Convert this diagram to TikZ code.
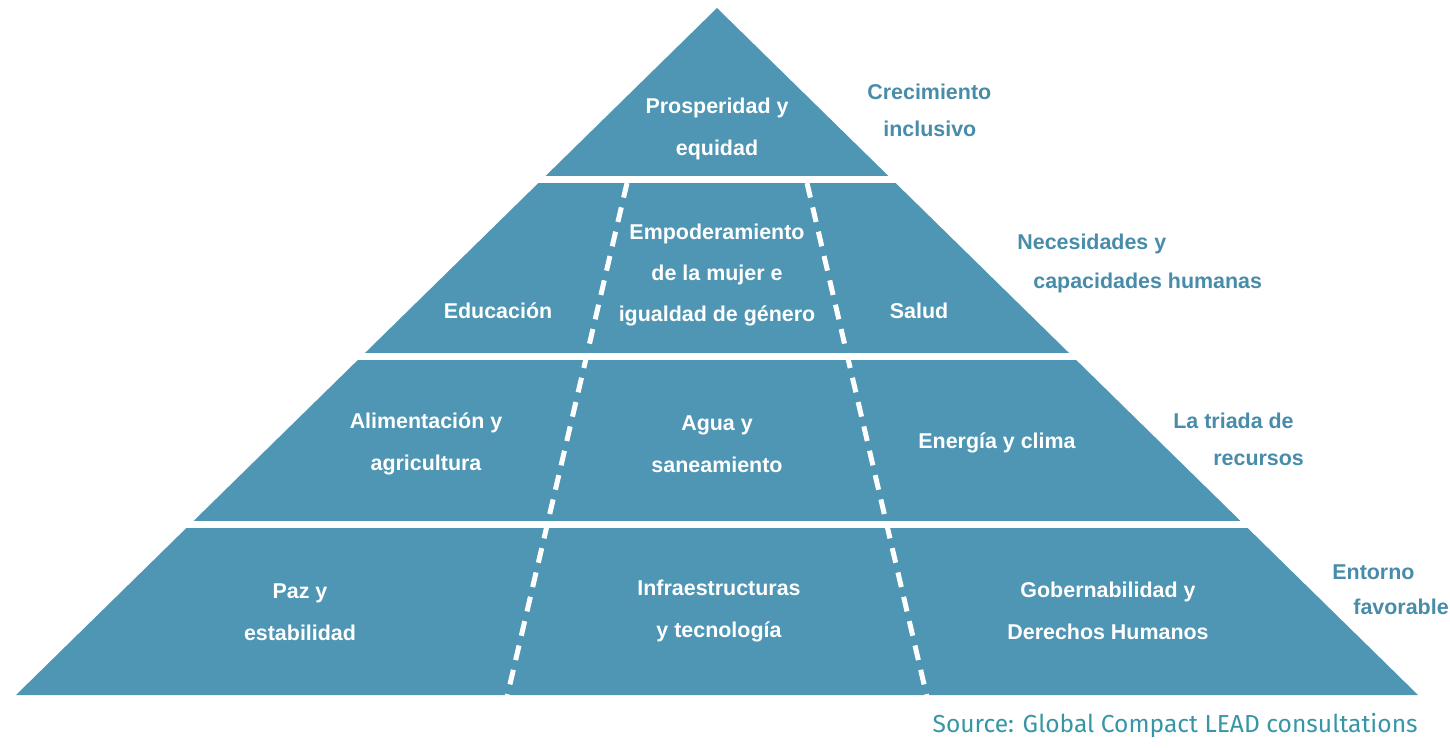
\documentclass[tikz,border=0pt]{standalone}
\usepackage{fontspec}
\setmainfont{Liberation Sans}
\newfontfamily\srcfont{Fira Sans}
\usetikzlibrary{positioning}

\definecolor{pyrblue}{RGB}{78,150,180}
\definecolor{sideblue}{RGB}{72,140,170}
\definecolor{srcteal}{RGB}{55,150,165}

\begin{document}
\begin{tikzpicture}[x=0.02cm, y=-0.02cm,
                    font=\fontsize{12.2}{23.6}\selectfont\bfseries,
                    gap/.style={white, line width=0.14cm},
                    dashline/.style={white, line width=0.1cm, dash pattern=on 0.3cm off 0.2cm},
                    cell/.style={text=white, align=center, inner sep=0pt},
                    side/.style={text=sideblue, anchor=base west, inner sep=0pt}]
  \useasboundingbox (0,0) rectangle (1450,747);
  % pyramid body
  \coordinate (apex) at (717,8);
  \coordinate (bl) at (16,695);
  \coordinate (br) at (1418,695);
  \fill[pyrblue] (apex) -- (br) -- (bl) -- cycle;
  % white gaps between the four levels
  \foreach \yy in {179.5,356,524} \draw[gap] (0,\yy) -- (1450,\yy);
  % dashed column dividers
  \draw[dashline] (627,183) -- (507,697);
  \draw[dashline] (807,183) -- (927,697);
  % level 1
  \node[cell] (prosp) at (717,129) {Prosperidad y\\equidad};
  % level 2
  \node[cell] (educ)  at (498,311) {Educación};
  \node[cell] (empod) at (717,275) {Empoderamiento\\de la mujer e\\igualdad de género};
  \node[cell] (salud) at (919,311) {Salud};
  % level 3
  \node[cell] (alim)    at (426,444) {Alimentación y\\agricultura};
  \node[cell] (agua)    at (717,444) {Agua y\\saneamiento};
  \node[cell] (energia) at (997,443) {Energía y clima};
  % level 4
  \node[cell] (paz)   at (300,612) {Paz y\\estabilidad};
  \node[cell] (infra) at (719,611) {Infraestructuras\\y tecnología};
  \node[cell] (gober) at (1108,611) {Gobernabilidad y\\Derechos Humanos};
  % level names on the right
  \node[side] (crec1) at (867,99)  {Crecimiento};
  \node[side] (crec2) at (883,136) {inclusivo};
  \node[side] (nece1) at (1017,249) {Necesidades y};
  \node[side] (nece2) at (1033,288) {capacidades humanas};
  \node[side] (tria1) at (1173,428) {La triada de};
  \node[side] (tria2) at (1213,465) {recursos};
  \node[side] (ento1) at (1332,579) {Entorno};
  \node[side] (ento2) at (1353,614) {favorable};
  % source line
  \node[anchor=base east, inner sep=0pt, text=srcteal,
        font=\srcfont\fontsize{14}{16}\selectfont] (source) at (1418,732)
        {Source: Global Compact LEAD consultations};
\end{tikzpicture}
\end{document}
